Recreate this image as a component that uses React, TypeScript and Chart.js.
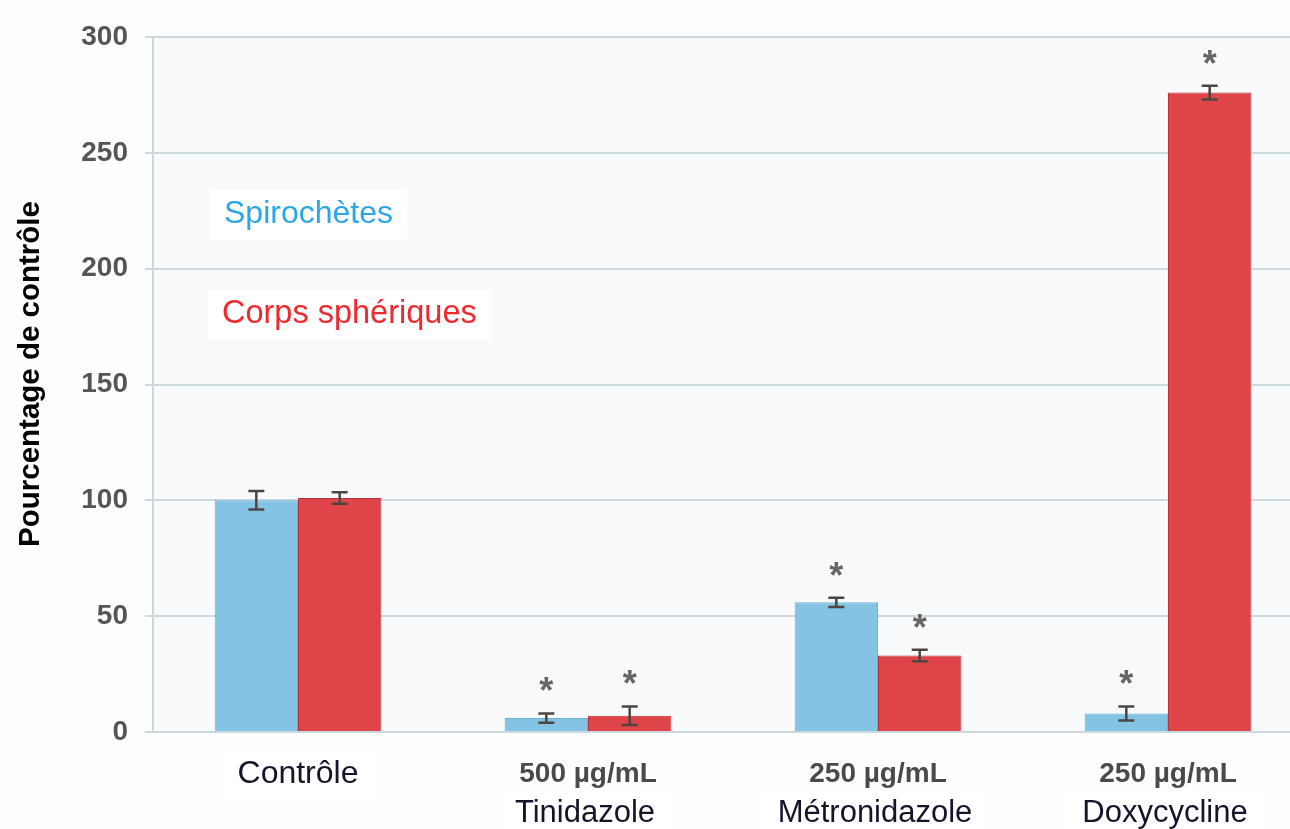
import React, { useEffect, useRef } from "react";
import { Chart, registerables } from "chart.js";

Chart.register(...registerables);

// Treatment groups and the dose printed above each name
const categories = ["Contrôle", "Tinidazole", "Métronidazole", "Doxycycline"];
const doses = ["", "500 µg/mL", "250 µg/mL", "250 µg/mL"];

// Percent of control, with error half-widths
const spirochetes = [100, 6, 56, 8];
const spirochetesErr = [4, 2, 2, 3];
const spheriques = [101, 7, 33, 276];
const spheriquesErr = [2.5, 4, 2.5, 3];

// Groups marked as significantly different from control
const significant = [false, true, true, true];

const seriesNames = ["Spirochètes", "Corps sphériques"];
const yTitle = "Pourcentage de contrôle";
const yMin = 0;
const yMax = 300;
const yStep = 50;

const FONT = "'Liberation Sans', Arial, sans-serif";
const BLUE = "rgb(132,195,228)";
const RED = "rgb(223,68,72)";

const errors = [spirochetesErr, spheriquesErr];

const annotationPlugin = {
  id: "annotations",
  beforeDraw(chart: any) {
    const { ctx, chartArea } = chart;
    ctx.save();
    ctx.fillStyle = "#f8fafb";
    ctx.fillRect(chartArea.left, chartArea.top, chartArea.right - chartArea.left, chartArea.bottom - chartArea.top);
    ctx.restore();
  },
  afterDatasetsDraw(chart: any) {
    const { ctx } = chart;
    const y = chart.scales.y;
    ctx.save();
    chart.data.datasets.forEach((ds: any, i: number) => {
      const meta = chart.getDatasetMeta(i);
      ds.data.forEach((v: number, j: number) => {
        const bar = meta.data[j];
        const e = errors[i][j];
        const x = bar.x;
        const yt = y.getPixelForValue(v + e);
        const yb = y.getPixelForValue(v - e);
        ctx.strokeStyle = "#4d4540";
        ctx.lineWidth = 2.5;
        ctx.beginPath();
        ctx.moveTo(x, yt);
        ctx.lineTo(x, yb);
        ctx.moveTo(x - 8, yt);
        ctx.lineTo(x + 8, yt);
        ctx.moveTo(x - 8, yb);
        ctx.lineTo(x + 8, yb);
        ctx.stroke();
        if (significant[j]) {
          ctx.fillStyle = "#666";
          ctx.font = `bold 36px ${FONT}`;
          ctx.textAlign = "center";
          ctx.textBaseline = "middle";
          ctx.fillText("*", x, yt - 20);
        }
      });
    });
    ctx.restore();
  },
  afterDraw(chart: any) {
    const { ctx } = chart;
    const xs = chart.scales.x;
    ctx.save();
    ctx.textAlign = "center";
    ctx.textBaseline = "middle";

    const boxedText = (text: string, x: number, y: number, font: string, color: string, align: "left" | "center") => {
      ctx.font = font;
      const w = ctx.measureText(text).width;
      const left = align === "center" ? x - w / 2 : x;
      ctx.fillStyle = "#ffffff";
      ctx.fillRect(left - 14, y - 24, w + 28, 50);
      ctx.fillStyle = color;
      ctx.textAlign = align;
      ctx.fillText(text, x, y);
    };

    // Category labels under the axis
    categories.forEach((name, j) => {
      const cx = xs.getPixelForValue(j);
      if (doses[j]) {
        ctx.font = `bold 28px ${FONT}`;
        ctx.fillStyle = "#4a4a4a";
        ctx.textAlign = "center";
        ctx.fillText(doses[j], cx, 774);
        boxedText(name, cx - 3, 813, `31px ${FONT}`, "#15152a", "center");
      } else {
        boxedText(name, cx, 774, `32px ${FONT}`, "#15152a", "center");
      }
    });

    // Series key written inside the plot
    boxedText(seriesNames[0], 224, 214, `32px ${FONT}`, "#2ba6e6", "left");
    boxedText(seriesNames[1], 222, 314, `32.5px ${FONT}`, "#ee2a2e", "left");

    // Vertical axis title
    ctx.translate(31, 374);
    ctx.rotate(-Math.PI / 2);
    ctx.font = `bold 29.5px ${FONT}`;
    ctx.fillStyle = "#000";
    ctx.textAlign = "center";
    ctx.fillText(yTitle, 0, 0);
    ctx.restore();
  },
};

export default function App() {
  const canvasRef = useRef<HTMLCanvasElement | null>(null);

  useEffect(() => {
    const canvas = canvasRef.current;
    if (!canvas) return;
    const chart = new Chart(canvas, {
      type: "bar",
      data: {
        labels: categories,
        datasets: [
          {
            label: seriesNames[0],
            data: spirochetes,
            backgroundColor: BLUE,
            borderColor: "rgb(110,176,212)",
            borderWidth: 1,
          },
          {
            label: seriesNames[1],
            data: spheriques,
            backgroundColor: RED,
            borderColor: "rgb(188,50,56)",
            borderWidth: 1,
          },
        ],
      },
      options: {
        responsive: false,
        animation: false,
        devicePixelRatio: 1,
        datasets: { bar: { barPercentage: 1, categoryPercentage: 0.575 } },
        layout: { padding: { left: 0, top: 37, right: 0, bottom: 97 } },
        plugins: { legend: { display: false }, tooltip: { enabled: false } },
        scales: {
          x: { display: false },
          y: {
            min: yMin,
            max: yMax,
            afterFit: (s: any) => {
              s.width = 153;
            },
            ticks: {
              stepSize: yStep,
              color: "#555",
              padding: 17,
              font: { family: FONT, size: 28, weight: "bold" },
            },
            grid: { color: "#cbd9df", lineWidth: 2, tickLength: 8 },
            border: { display: true, color: "#cbd9df", width: 2 },
          },
        },
      },
      plugins: [annotationPlugin],
    } as any);
    return () => chart.destroy();
  }, []);

  return (
    <div
      style={{
        position: "fixed",
        left: 0,
        top: 0,
        width: 1290,
        height: 829,
        overflow: "hidden",
        background: "#fdfefe",
      }}
    >
      <canvas ref={canvasRef} width={1313} height={829} style={{ width: 1313, height: 829, display: "block" }} />
    </div>
  );
}
